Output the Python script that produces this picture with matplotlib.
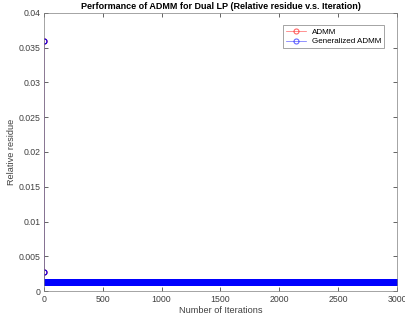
"""Relative residue of ADMM and generalized ADMM on the dual LP."""

import matplotlib

matplotlib.use("Agg")
import matplotlib.pyplot as plt
import numpy as np

plt.rcParams["font.family"] = ["Liberation Sans", "DejaVu Sans"]

# residue per iteration (first two iterations, then the plateau)
iterations = np.arange(1, 3001)
admm_residue = [0.0360, 0.0027] + [0.00128] * 2998
generalized_residue = [0.0360, 0.0027] + [0.00128] * 2998

x_ticks = [0, 500, 1000, 1500, 2000, 2500, 3000]
y_ticks = [0, 0.005, 0.01, 0.015, 0.02, 0.025, 0.03, 0.035, 0.04]
y_tick_labels = ["0", "0.005", "0.01", "0.015", "0.02", "0.025", "0.03",
                 "0.035", "0.04"]

edge_grey = "#262626"
label_grey = "#404040"

figure = plt.figure(figsize=(4.06, 3.22), dpi=100)
axis = figure.add_axes([0.108, 0.096, 0.870, 0.864])

axis.plot(iterations, admm_residue, color="red", linewidth=0.5,
          marker="o", markersize=3.6, markerfacecolor="none",
          markeredgewidth=0.8, label="ADMM")
axis.plot(iterations, generalized_residue, color="blue", linewidth=0.5,
          marker="o", markersize=3.6, markerfacecolor="none",
          markeredgewidth=0.8, label="Generalized ADMM")

axis.set_xlim(0, 3000)
axis.set_ylim(0, 0.04)
axis.set_xticks(x_ticks)
axis.set_yticks(y_ticks)
axis.set_yticklabels(y_tick_labels)
axis.tick_params(direction="in", length=3, width=0.5, labelsize=6.3,
                 color=edge_grey, labelcolor=label_grey, top=True,
                 right=True, pad=2.5)
for spine in axis.spines.values():
    spine.set_linewidth(0.5)
    spine.set_color("#808080")

axis.set_xlabel("Number of Iterations", fontsize=6.6, color=label_grey,
                labelpad=1.5)
axis.set_ylabel("Relative residue", fontsize=6.6, color=label_grey,
                labelpad=2)
axis.set_title("Performance of ADMM for Dual LP (Relative residue v.s. "
               "Iteration)", fontsize=6.5, fontweight="bold", pad=3)

legend = axis.legend(loc="upper right", fontsize=5.8, fancybox=False,
                     framealpha=1, borderpad=0.35, handlelength=2.4,
                     handletextpad=0.8, labelspacing=0.25,
                     bbox_to_anchor=(0.975, 0.97))
legend.get_frame().set_linewidth(0.5)
legend.get_frame().set_edgecolor("#808080")
for handle in legend.get_lines():
    handle.set_alpha(0.6)

figure.savefig("out.png", dpi=100)
plt.close(figure)
